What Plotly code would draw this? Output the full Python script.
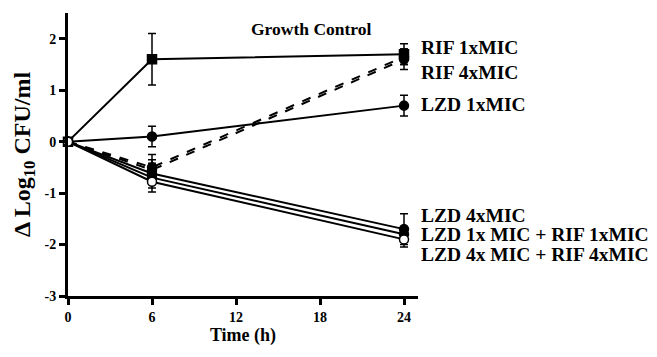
import plotly.graph_objects as go

time_h = [0, 6, 24]
growth_control = [0, 1.6, 1.7]
growth_control_err = [0, 0.5, 0.2]
rif_1x = [0, -0.5, 1.65]
rif_1x_err = [0, 0.25, 0.15]
rif_4x = [0, -0.55, 1.6]
rif_4x_err = [0, 0.2, 0.2]
lzd_1x = [0, 0.1, 0.7]
lzd_1x_err = [0, 0.2, 0.2]
lzd_4x = [0, -0.62, -1.7]
lzd_4x_err = [0, 0.2, 0.3]
lzd1_rif1 = [0, -0.7, -1.8]
lzd1_rif1_err = [0, 0.2, 0.15]
lzd4_rif4 = [0, -0.78, -1.9]
lzd4_rif4_err = [0, 0.2, 0.15]

series_names = ["Growth Control", "RIF 1xMIC", "RIF 4xMIC", "LZD 1xMIC",
                "LZD 4xMIC", "LZD 1x MIC + RIF 1xMIC", "LZD 4x MIC + RIF 4xMIC"]
label_y = [2.19, 1.83, 1.35, 0.73, -1.44, -1.81, -2.19]
label_x = [17.4, 25.0, 25.0, 25.0, 25.0, 25.0, 25.0]

x_ticks = [0, 6, 12, 18, 24]
y_ticks = [-3, -2, -1, 0, 1, 2]
X_MAX = 25

FONT = "Liberation Serif"
fig = go.Figure()

def add(y, err, dash, symbol, fill):
    fig.add_trace(go.Scatter(
        x=time_h, y=y, mode="lines+markers",
        line=dict(color="black", width=2, dash=dash),
        marker=dict(symbol=symbol, size=9, color=fill,
                    line=dict(color="black", width=1.5)),
        error_y=dict(type="data", array=err, visible=True, color="black",
                     thickness=1.5, width=4),
        showlegend=False, cliponaxis=False))

add(rif_1x, rif_1x_err, "dash", "circle", "black")
add(rif_4x, rif_4x_err, "dash", "circle", "black")
add(growth_control, growth_control_err, "solid", "square", "black")
add(lzd_1x, lzd_1x_err, "solid", "circle", "black")
add(lzd_4x, lzd_4x_err, "solid", "circle", "black")
add(lzd1_rif1, lzd1_rif1_err, "solid", "circle", "black")
add(lzd4_rif4, lzd4_rif4_err, "solid", "circle", "white")

for name, lx, ly in zip(series_names, label_x, label_y):
    inside = lx < X_MAX
    fig.add_annotation(x=lx if inside else lx / X_MAX + 0.006, y=ly,
                       xref="x" if inside else "paper", yref="y",
                       text="<b>%s</b>" % name,
                       showarrow=False, xanchor="center" if inside else "left",
                       yanchor="middle", borderpad=0,
                       font=dict(family=FONT, size=17.5 if inside else 19.5,
                                 color="black"))

fig.update_layout(
    width=657, height=357,
    margin=dict(l=68, r=239, t=13, b=61),
    paper_bgcolor="white", plot_bgcolor="white",
    font=dict(family=FONT, color="black"),
    xaxis=dict(range=[0, X_MAX], tickvals=x_ticks,
               ticktext=["<b>%d</b>" % v for v in x_ticks],
               showline=True, linecolor="black", linewidth=3,
               ticks="outside", ticklen=6, tickwidth=3, tickcolor="black",
               showgrid=False, zeroline=False, automargin=False,
               tickfont=dict(family=FONT, size=14),
               title=dict(text="<b>Time (h)</b>", font=dict(family=FONT, size=18),
                          standoff=4)),
    yaxis=dict(range=[-3, 2.5], tickvals=y_ticks,
               ticktext=["<b>%d</b>" % v for v in y_ticks],
               showline=True, linecolor="black", linewidth=3,
               ticks="outside", ticklen=6, tickwidth=3, tickcolor="black",
               showgrid=False, zeroline=False, automargin=False,
               tickfont=dict(family=FONT, size=14),
               title=dict(text="<b>Δ Log<sub>10</sub> CFU/ml</b>",
                          font=dict(family=FONT, size=24), standoff=8)),
)

fig.write_html("out.html", config={"displayModeBar": False},
               post_script="document.body.style.margin='0';document.body.style.overflow='hidden';")
